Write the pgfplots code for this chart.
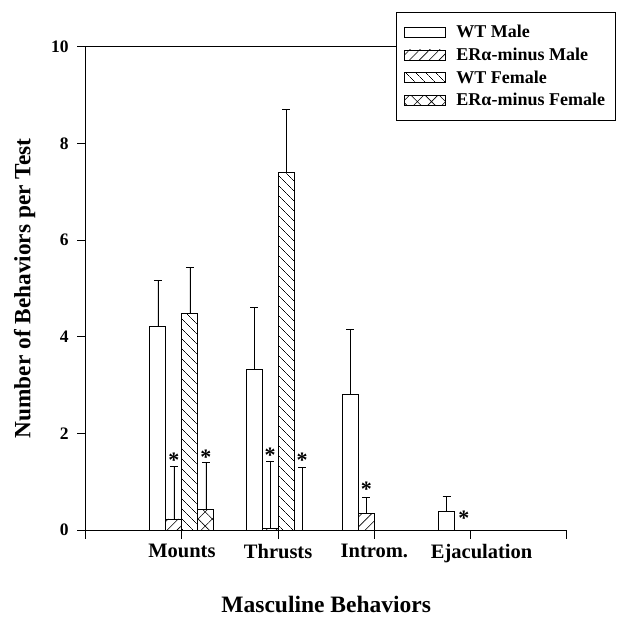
\documentclass[border=0pt]{standalone}
\usepackage{fontspec}
\setmainfont{Liberation Serif}
\usepackage{pgfplots}
\pgfplotsset{compat=1.18}
\usetikzlibrary{patterns.meta}
\begin{document}
\begin{tikzpicture}
\begin{axis}[
  scale only axis, width=481pt, height=483pt,
  xmin=0, xmax=5, ymin=0, ymax=10,
  clip=false,
  axis x line*=bottom, axis y line*=left,
  axis line style={line width=0.9pt},
  tick align=outside, major tick length=8.5pt,
  tick style={line width=0.9pt, black},
  xtick={0,1,2,3,4,5},
  xticklabels={,Mounts,Thrusts,Introm.,\hspace{22pt}Ejaculation,},
  ytick={0,2,4,6,8,10},
  /pgf/number format/assume math mode=true,
  xticklabel style={font=\bfseries\fontsize{20.5}{22}\selectfont, yshift=-2pt},
  yticklabel style={font=\bfseries\fontsize{17.5}{18}\selectfont, xshift=-5pt},
  xlabel={Masculine Behaviors},
  ylabel={Number of Behaviors per Test},
  xlabel style={font=\bfseries\fontsize{23.5}{24}\selectfont, at={(axis description cs:0.5,-0.155)}, anchor=center},
  ylabel style={font=\bfseries\fontsize{23.3}{24}\selectfont, at={(axis description cs:-0.127,0.5)}, anchor=center},
  ybar=0pt, bar width=16pt,
  legend style={at={(0.644,1.072)}, anchor=north west, draw=black, line width=0.6pt, fill=white,
    font=\bfseries\fontsize{18}{19}\selectfont, row sep=4.6pt, column sep=9pt, inner xsep=8pt, inner ysep=11pt},
  legend cell align=left,
  legend image code/.code={\draw[#1, line width=0.6pt] (0pt,-5pt) rectangle (41pt,5pt);},
  error bars/y dir=plus, error bars/y explicit,
  error bars/error bar style={line width=0.6pt, black},
  error bars/error mark options={rotate=90, black, mark size=4pt, line width=0.8pt},
]
\addplot[draw=black, line width=0.8pt, fill=white] coordinates {
  (1,4.22) +- (0,0.95)
  (2,3.32) +- (0,1.29)
  (3,2.80) +- (0,1.35)
  (4,0.39) +- (0,0.30)
};
\addlegendentry{WT Male}
\addplot[draw=black, line width=0.8pt, fill=white, pattern={Lines[angle=45,distance=7pt,line width=0.6pt]}, pattern color=black] coordinates {
  (1,0.23) +- (0,1.08)
  (2,0.03) +- (0,1.40)
  (3,0.35) +- (0,0.33)
};
\addlegendentry{ERα-minus Male}
\addplot[draw=black, line width=0.8pt, fill=white, pattern={Lines[angle=-45,distance=7.4pt,line width=0.6pt]}, pattern color=black] coordinates {
  (1,4.48) +- (0,0.95)
  (2,7.40) +- (0,1.31)
};
\addlegendentry{WT Female}
\addplot[draw=black, line width=0.8pt, fill=white, pattern={Hatch[angle=45,distance=10pt,line width=0.6pt]}, pattern color=black] coordinates {
  (1,0.43) +- (0,0.97)
  (2,0.00) +- (0,1.29)
};
\addlegendentry{ERα-minus Female}
\draw[line width=0.9pt] (axis cs:0,10) -- (axis cs:5,10);
\begin{scope}[every node/.style={font=\bfseries\fontsize{22}{22}\selectfont, inner sep=0pt}]
\node at (axis cs:0.917,1.45) {*};
\node at (axis cs:1.25,1.50) {*};
\node at (axis cs:1.917,1.55) {*};
\node at (axis cs:2.25,1.45) {*};
\node at (axis cs:2.917,0.85) {*};
\node at (axis cs:3.93,0.25) {*};
\end{scope}
\coordinate (bbl) at (rel axis cs:-0.178,-0.182);
\coordinate (btr) at (rel axis cs:1.103,1.097);
\end{axis}
\path (bbl) rectangle (btr);
\end{tikzpicture}
\end{document}
